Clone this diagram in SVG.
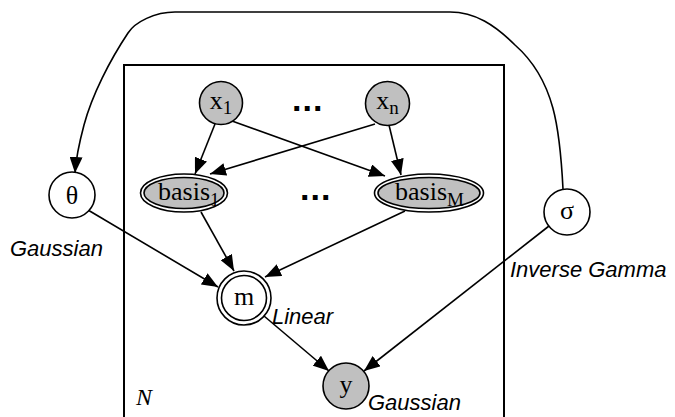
<svg xmlns="http://www.w3.org/2000/svg" width="675" height="417" viewBox="0 0 675 417">
<style>
.node{stroke:#000;stroke-width:1.6}
.obs{fill:#c0c0c0}
.lat{fill:#fff}
.lbl{font-family:"Liberation Serif",serif;font-size:26px;fill:#000}
.sub{font-size:19px}
.dist{font-family:"Liberation Sans",Arial,sans-serif;font-style:italic;font-size:22px;fill:#000}
.dots{font-family:"Liberation Sans",Arial,sans-serif;font-weight:bold;font-size:34px;letter-spacing:1px;fill:#000}
.edge{fill:none;stroke:#000;stroke-width:1.6}
</style>
<defs>
<marker id="arr" markerUnits="userSpaceOnUse" markerWidth="16" markerHeight="13" viewBox="0 0 16 13" refX="16" refY="6.5" orient="auto">
<path d="M0,0 L16,6.5 L0,13 z" fill="#000"/>
</marker>
</defs>
<rect width="675" height="417" fill="#fff"/>
<g id="plate">
<rect x="124" y="65" width="380" height="370" fill="none" stroke="#000" stroke-width="2"/>
<text x="136" y="405" font-family="'Liberation Serif',serif" font-style="italic" font-size="24">N</text>
</g>
<g id="connectors">
<path class="edge" marker-end="url(#arr)" d="M563,189 C560,130 555,80 515,45 C495,25 475,12 450,12 L175,12 C155,12 135,22 128,33 C110,60 92,95 84,125 C80,140 76,158 75,173"/>
<line class="edge" marker-end="url(#arr)" x1="215" y1="124" x2="195" y2="174"/>
<line class="edge" marker-end="url(#arr)" x1="232" y1="121" x2="385" y2="176"/>
<line class="edge" marker-end="url(#arr)" x1="375" y1="124" x2="210" y2="174"/>
<line class="edge" marker-end="url(#arr)" x1="389" y1="125" x2="401" y2="175"/>
<line class="edge" marker-end="url(#arr)" x1="201" y1="212" x2="234" y2="271"/>
<line class="edge" marker-end="url(#arr)" x1="405" y1="211" x2="265" y2="277"/>
<line class="edge" marker-end="url(#arr)" x1="88" y1="210" x2="218" y2="287"/>
<line class="edge" marker-end="url(#arr)" x1="264" y1="316" x2="329" y2="371"/>
<line class="edge" marker-end="url(#arr)" x1="549" y1="226" x2="364" y2="371"/>
</g>
<g id="x1">
<circle class="node obs" cx="221" cy="103" r="21.5"/>
<text class="lbl" x="221" y="109" text-anchor="middle">x<tspan class="sub" dy="5">1</tspan></text>
</g>
<g id="dots_top">
<text class="dots" x="292" y="111">...</text>
</g>
<g id="xn">
<circle class="node obs" cx="387.5" cy="103.5" r="22"/>
<text class="lbl" x="387.5" y="109" text-anchor="middle">x<tspan class="sub" dy="5">n</tspan></text>
</g>
<g id="basis1">
<ellipse class="node" fill="#fff" cx="184" cy="193" rx="43.5" ry="19"/>
<ellipse class="node obs" cx="184" cy="193" rx="40" ry="15.5"/>
<text class="lbl" x="158" y="200">basis<tspan class="sub" dy="6">1</tspan></text>
</g>
<g id="dots_mid">
<text class="dots" x="300" y="200">...</text>
</g>
<g id="basisM">
<ellipse class="node" fill="#fff" cx="429" cy="193" rx="54.5" ry="19"/>
<ellipse class="node obs" cx="429" cy="193" rx="51" ry="15.5"/>
<text class="lbl" x="395" y="200">basis<tspan class="sub" dy="6">M</tspan></text>
</g>
<g id="theta">
<circle class="node lat" cx="72" cy="195" r="23"/>
<text class="lbl" x="72" y="204" text-anchor="middle">θ</text>
<text class="dist" x="10" y="256">Gaussian</text>
</g>
<g id="sigma">
<circle class="node lat" cx="567" cy="212" r="23"/>
<text class="lbl" x="567" y="219" text-anchor="middle">σ</text>
<text class="dist" x="510" y="277">Inverse Gamma</text>
</g>
<g id="m">
<circle class="node lat" cx="244" cy="298" r="27"/>
<circle class="node lat" cx="244" cy="298" r="22.5"/>
<text class="lbl" x="244" y="305" text-anchor="middle">m</text>
<text class="dist" x="272" y="324">Linear</text>
</g>
<g id="y">
<circle class="node obs" cx="346" cy="386" r="23"/>
<text class="lbl" x="346" y="393" text-anchor="middle">y</text>
<text class="dist" x="368" y="410">Gaussian</text>
</g>
</svg>
